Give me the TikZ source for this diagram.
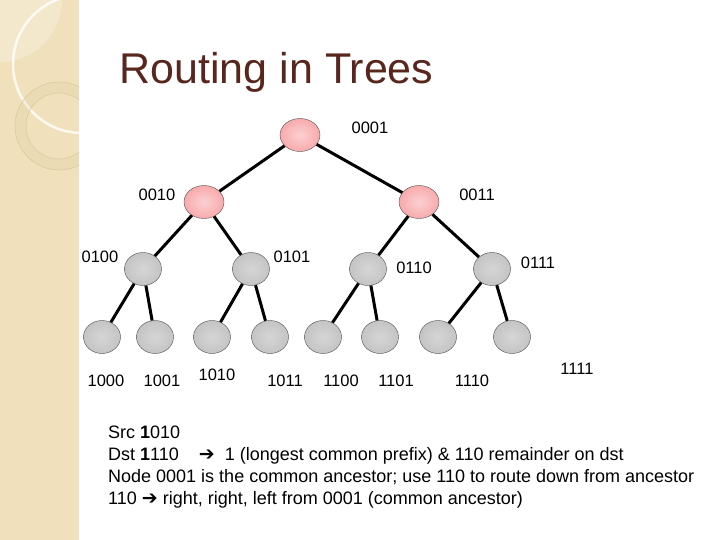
\documentclass[tikz,border=0pt]{standalone}
\usepackage{fontspec}
\setmainfont{Liberation Sans}
\newfontfamily\arrowfont{DejaVu Sans}
\usepackage{tikz}
\usetikzlibrary{shapes.geometric}
\definecolor{stripbeige}{RGB}{240,225,188}
\definecolor{ringtan}{RGB}{214,195,150}
\definecolor{titlebrown}{RGB}{88,38,28}
\definecolor{pinkfill}{RGB}{248,170,172}
\definecolor{grayfill}{RGB}{196,196,196}
\newcommand{\bigarrow}{{\arrowfont\bfseries\fontsize{19}{22}\selectfont ➔}}

\begin{document}
\begin{tikzpicture}[x=1pt, y=-1pt,
    rnode/.style={ellipse, draw=black!70, thin, minimum width=40pt,
                  minimum height=33pt, inner sep=0pt, shading=radial,
                  inner color=pinkfill!55!white, outer color=pinkfill},
    gnode/.style={ellipse, draw=black!70, thin, minimum width=37pt,
                  minimum height=33pt, inner sep=0pt, shading=radial,
                  inner color=grayfill!70!white, outer color=grayfill},
    lbl/.style={font=\fontsize{16.5}{19}\selectfont},
    edge/.style={line width=3pt}
]
\useasboundingbox (0,0) rectangle (720,540);

% side strip
\fill[stripbeige] (0,0) rectangle (79,540);
\begin{scope}
\clip (0,0) rectangle (79,540);
\fill[white, opacity=0.25] (0,0) circle (62);
\draw[white, line width=2.5pt, opacity=0.8] (82,64) circle (69);
\fill[ringtan, opacity=0.2, even odd rule] (59,126) circle (44) (59,126) circle (33);
\draw[ringtan, thin] (59,126) circle (44);
\draw[ringtan, thin] (59,126) circle (33);
\end{scope}

% title
\node[anchor=west, text=titlebrown, font=\fontsize{43}{50}\selectfont] (title) at (116,72) {Routing in Trees};

% tree nodes
\node[rnode] (n0001) at (300,135) {};
\node[rnode] (n0010) at (204,202) {};
\node[rnode] (n0011) at (419,202) {};
\node[gnode] (n0100) at (143,269) {};
\node[gnode] (n0101) at (251,269) {};
\node[gnode] (n0110) at (368,269) {};
\node[gnode] (n0111) at (492,269) {};
\node[gnode] (n1000) at (102,337) {};
\node[gnode] (n1001) at (155,337) {};
\node[gnode] (n1010) at (212,337) {};
\node[gnode] (n1011) at (270,337) {};
\node[gnode] (n1100) at (323,337) {};
\node[gnode] (n1101) at (380,337) {};
\node[gnode] (n1110) at (438,337) {};
\node[gnode] (n1111) at (512,337) {};

% edges
\draw[edge] (n0001) -- (n0010);
\draw[edge] (n0001) -- (n0011);
\draw[edge] (n0010) -- (n0100);
\draw[edge] (n0010) -- (n0101);
\draw[edge] (n0011) -- (n0110);
\draw[edge] (n0011) -- (n0111);
\draw[edge] (n0100) -- (n1000);
\draw[edge] (n0100) -- (n1001);
\draw[edge] (n0101) -- (n1010);
\draw[edge] (n0101) -- (n1011);
\draw[edge] (n0110) -- (n1100);
\draw[edge] (n0110) -- (n1101);
\draw[edge] (n0111) -- (n1110);
\draw[edge] (n0111) -- (n1111);

% labels
\node[lbl] (l0001) at (370,128) {0001};
\node[lbl] (l0010) at (157,195) {0010};
\node[lbl] (l0011) at (477,195) {0011};
\node[lbl] (l0100) at (100,257) {0100};
\node[lbl] (l0101) at (292,257) {0101};
\node[lbl] (l0110) at (414,268) {0110};
\node[lbl] (l0111) at (538,263) {0111};
\node[lbl] (l1000) at (106,381) {1000};
\node[lbl] (l1001) at (162,381) {1001};
\node[lbl] (l1010) at (217,375) {1010};
\node[lbl] (l1011) at (285,381) {1011};
\node[lbl] (l1100) at (341,381) {1100};
\node[lbl] (l1101) at (396,381) {1101};
\node[lbl] (l1110) at (472,381) {1110};
\node[lbl] (l1111) at (577,369) {1111};

% explanation
\node[anchor=north west, align=left, inner sep=0pt,
      font=\fontsize{18}{22}\selectfont] (notes) at (108,426) {%
Src \textbf{1}010\\
Dst \textbf{1}110\hspace{20pt}\bigarrow\hspace{10pt}1 (longest common prefix) \& 110 remainder on dst\\
Node 0001 is the common ancestor; use 110 to route down from ancestor\\
110 \bigarrow{} right, right, left from 0001 (common ancestor)};
\end{tikzpicture}
\end{document}
